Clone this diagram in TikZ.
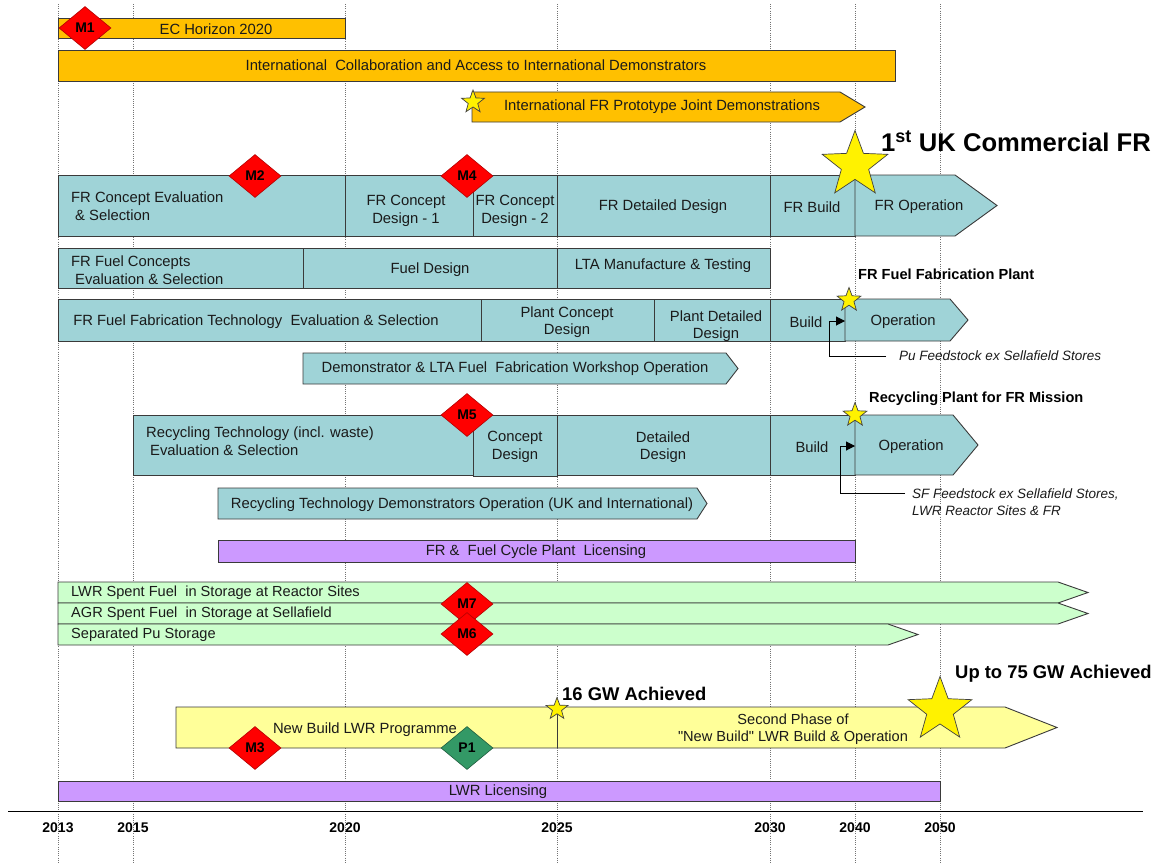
\documentclass[tikz,border=0pt]{standalone}
\usepackage{fontspec}
\setmainfont{Liberation Sans}
\usetikzlibrary{shapes.geometric,arrows.meta}

\definecolor{orangebar}{HTML}{FFC000}
\definecolor{tealbar}{HTML}{9FD3D7}
\definecolor{lilac}{HTML}{CC99FF}
\definecolor{mint}{HTML}{CCFFCC}
\definecolor{paleyellow}{HTML}{FFFF99}
\definecolor{msred}{HTML}{FF0000}
\definecolor{msgreen}{HTML}{339966}
\definecolor{edge}{HTML}{3A3A3A}
\definecolor{ink}{HTML}{1A1A1A}

\newcommand\barfont{\fontsize{14.8}{17.5}\selectfont}
\newcommand\storefont{\fontsize{14.6}{16.5}\selectfont}
\newcommand\msfont{\bfseries\fontsize{14}{14}\selectfont}
\newcommand\notefont{\itshape\fontsize{13.5}{17}\selectfont}
\newcommand\headfont{\bfseries\fontsize{14.6}{17}\selectfont}
\newcommand\gwfont{\bfseries\fontsize{18.4}{21}\selectfont}
\newcommand\yearfont{\bfseries\fontsize{14}{16}\selectfont}

% chevron-shaped bar: x-start, y-top, x-body-end, y-bottom, x-tip, fill
\newcommand\chevbar[6]{%
  \path[draw=edge, line width=0.9pt, fill=#6]
    (#1,#2) -- (#3,#2) -- (#5,{(#2+#4)/2}) -- (#3,#4) -- (#1,#4) -- cycle;}

\begin{document}
\begin{tikzpicture}[x=1pt, y=-1pt,
  bar/.style={rectangle, draw=edge, line width=0.9pt, inner sep=0pt,
    outer sep=0pt, anchor=north west},
  lbl/.style={inner sep=1pt, font=\barfont, text=ink, align=center},
  lbll/.style={lbl, anchor=west, align=left},
  store/.style={lbl, anchor=west, font=\storefont},
  head/.style={inner sep=1pt, anchor=west, font=\headfont, text=black},
  note/.style={inner sep=1pt, anchor=west, align=left, font=\notefont, text=ink},
  gw/.style={inner sep=1pt, anchor=west, font=\gwfont, text=black},
  year/.style={inner sep=1pt, font=\yearfont, text=black},
  ms/.style={diamond, draw=msred!70!black, fill=msred, line width=0.6pt,
    inner sep=0pt, minimum width=52pt, minimum height=43pt, font=\msfont},
  pmark/.style={ms, draw=msgreen!60!black, fill=msgreen},
  starmark/.style={star, star points=5, star point ratio=2.4, draw=black!75,
    fill=yellow, line width=0.7pt, inner sep=0pt},
  grid/.style={draw=black!55, line width=0.8pt, dash pattern=on 1pt off 1.2pt},
  feed/.style={draw=black, line width=1pt, -{Triangle[length=9pt,width=9pt]}}
]
\useasboundingbox (0,0) rectangle (1155,864);

% year grid
\foreach \gx in {58,133,345,557,770,855,940}
  \draw[grid] (\gx,4) -- (\gx,864);

% time axis
\draw[black, line width=1pt] (8,811) -- (1143,811);
\node[year] (y2013) at (58,828) {2013};
\node[year] (y2015) at (133,828) {2015};
\node[year] (y2020) at (345,828) {2020};
\node[year] (y2025) at (557,828) {2025};
\node[year] (y2030) at (770,828) {2030};
\node[year] (y2040) at (855,828) {2040};
\node[year] (y2050) at (940,828) {2050};

% international programmes
\node[bar, fill=orangebar, minimum width=287pt, minimum height=20pt] (ec) at (58,18) {};
\node[bar, fill=orangebar, minimum width=837pt, minimum height=31pt] (collab) at (58,50) {};
\chevbar{472}{92}{840}{122}{865}{orangebar}

% fast reactor
\node[bar, fill=tealbar, minimum width=287pt, minimum height=61pt] (frEval) at (58,175) {};
\node[bar, fill=tealbar, minimum width=128pt, minimum height=61pt] (frCd1) at (345,175) {};
\node[bar, fill=tealbar, minimum width=84pt, minimum height=61pt] (frCd2) at (473,175) {};
\node[bar, fill=tealbar, minimum width=213pt, minimum height=61pt] (frDet) at (557,175) {};
\node[bar, fill=tealbar, minimum width=85pt, minimum height=61pt] (frBuild) at (770,175) {};
\chevbar{855}{175}{955}{236}{997}{tealbar}

% fuel
\node[bar, fill=tealbar, minimum width=245pt, minimum height=40pt] (fuelCon) at (58,248) {};
\node[bar, fill=tealbar, minimum width=254pt, minimum height=40pt] (fuelDes) at (303,248) {};
\node[bar, fill=tealbar, minimum width=213pt, minimum height=40pt] (lta) at (557,248) {};

% fuel fabrication plant
\node[bar, fill=tealbar, minimum width=423pt, minimum height=42pt] (fabEval) at (58,299) {};
\node[bar, fill=tealbar, minimum width=173pt, minimum height=42pt] (fabCon) at (481,299) {};
\node[bar, fill=tealbar, minimum width=116pt, minimum height=42pt] (fabDet) at (654,299) {};
\node[bar, fill=tealbar, minimum width=75pt, minimum height=42pt] (fabBuild) at (770,299) {};
\chevbar{845}{299}{950}{341}{968}{tealbar}
\chevbar{303}{353}{726}{384}{738}{tealbar}

% recycling plant
\node[bar, fill=tealbar, minimum width=340pt, minimum height=60pt] (recEval) at (133,415) {};
\node[bar, fill=tealbar, minimum width=84pt, minimum height=61pt] (recCon) at (473,415) {};
\node[bar, fill=tealbar, minimum width=213pt, minimum height=60pt] (recDet) at (557,415) {};
\node[bar, fill=tealbar, minimum width=85pt, minimum height=60pt] (recBuild) at (770,415) {};
\chevbar{855}{415}{953}{475}{978}{tealbar}
\chevbar{218}{488}{697}{519}{707}{tealbar}

% licensing and storage
\node[bar, fill=lilac, minimum width=637pt, minimum height=22pt] (frLic) at (218,540) {};
\chevbar{58}{582}{1058}{603}{1088}{mint}
\chevbar{58}{603}{1058}{624}{1088}{mint}
\chevbar{58}{624}{888}{645}{918}{mint}

% new build LWR
\chevbar{176}{707}{1005}{748}{1057}{paleyellow}
\draw[edge, line width=0.9pt] (557,707) -- (557,748);
\node[bar, fill=lilac, minimum width=882pt, minimum height=20pt] (lwrLic) at (58,781) {};

% milestones
\node[ms] (m1) at (85,28) {M1};
\node[ms] (m2) at (255,176) {M2};
\node[ms] (m4) at (467,176) {M4};
\node[ms] (m5) at (467,415) {M5};
\node[ms] (m7) at (467,604) {M7};
\node[ms] (m6) at (467,634) {M6};
\node[ms] (m3) at (255,748) {M3};
\node[pmark] (p1) at (467,748) {P1};

% stars
\node[starmark, minimum size=24pt] (sProto) at (473,102) {};
\node[starmark, minimum size=69pt] (sFR) at (855,165) {};
\node[starmark, minimum size=25pt] (sFab) at (849,300) {};
\node[starmark, minimum size=25pt] (sRec) at (855,415) {};
\node[starmark, minimum size=23pt] (s16) at (557,709) {};
\node[starmark, minimum size=67pt] (s75) at (940,710) {};

% bar labels
\node[lbl] (ecT) at (216,29) {EC Horizon 2020};
\node[lbl] (collabT) at (476,65) {International~~Collaboration and Access to International Demonstrators};
\node[lbl] (protoT) at (662,107) {International FR Prototype Joint Demonstrations};
\node[inner sep=1pt, anchor=west, font=\bfseries\fontsize{25.6}{29}\selectfont] (ukT) at (880,141)
  {1\textsuperscript{st} UK Commercial FR};

\node[lbll] (frEvalT) at (70,206) {FR Concept Evaluation\\\hspace*{4pt}\& Selection};
\node[lbl] (frCd1T) at (406,211) {FR Concept\\Design - 1};
\node[lbl] (frCd2T) at (515,211) {FR Concept\\Design - 2};
\node[lbl] (frDetT) at (663,207) {FR Detailed Design};
\node[lbl] (frBuildT) at (812,207) {FR Build};
\node[lbl] (frOpT) at (919,207) {FR Operation};

\node[lbll] (fuelConT) at (70,270) {FR Fuel Concepts\\\hspace*{4pt}Evaluation \& Selection};
\node[lbl] (fuelDesT) at (430,270) {Fuel Design};
\node[lbl] (ltaT) at (663,266) {LTA Manufacture \& Testing};

\node[lbl] (fabEvalT) at (256,322) {FR Fuel Fabrication Technology~~Evaluation \& Selection};
\node[lbl] (fabConT) at (567,322) {Plant Concept\\Design};
\node[lbl] (fabDetT) at (716,326) {Plant Detailed\\Design};
\node[lbl] (fabBuildT) at (806,322) {Build};
\node[lbl] (fabOpT) at (903,322) {Operation};
\node[head] (fabHead) at (857,274) {FR Fuel Fabrication Plant};
\node[note] (puT) at (898,356) {Pu Feedstock ex Sellafield Stores};
\node[lbl] (demoT) at (515,369) {Demonstrator \& LTA Fuel~~Fabrication Workshop Operation};

\node[lbll] (recEvalT) at (145,441) {Recycling Technology (incl. waste)\\\hspace*{4pt}Evaluation \& Selection};
\node[lbl] (recConT) at (515,447) {Concept\\Design};
\node[lbl] (recDetT) at (663,447) {Detailed\\Design};
\node[lbl] (recBuildT) at (812,447) {Build};
\node[lbl] (recOpT) at (911,447) {Operation};
\node[head] (recHead) at (868,399) {Recycling Plant for FR Mission};
\node[note] (sfT) at (911,502) {SF Feedstock ex Sellafield Stores,\\LWR Reactor Sites \& FR};
\node[lbl] (recDemoT) at (462,505) {Recycling Technology Demonstrators Operation (UK and International)};

\node[lbl] (frLicT) at (536,552) {FR \&~~Fuel Cycle Plant~~Licensing};
\node[store] (lwrT) at (70,593) {LWR Spent Fuel~~in Storage at Reactor Sites};
\node[store] (agrT) at (70,614) {AGR Spent Fuel~~in Storage at Sellafield};
\node[store] (sepT) at (70,635) {Separated Pu Storage};

\node[gw] (gw16T) at (561,694) {16 GW Achieved};
\node[gw] (gw75T) at (954,674) {Up to 75 GW Achieved};
\node[lbl] (nbT) at (365,730) {New Build LWR Programme};
\node[lbl, font=\storefont] (spT) at (793,729) {Second Phase of\\\textquotedbl New Build\textquotedbl{} LWR Build \& Operation};
\node[lbl] (lwrLicT) at (498,792) {LWR Licensing};

% feedstock connectors
\coordinate (puBend) at (829,321);
\coordinate (fabIn) at (845,321);
\draw[feed] ([xshift=-12pt]puT.west) -| (puBend) -- (fabIn);
\coordinate (sfBend) at (840,446);
\coordinate (recIn) at (855,446);
\draw[feed] ([xshift=-6pt,yshift=9pt]sfT.west) -| (sfBend) -- (recIn);
\end{tikzpicture}
\end{document}
